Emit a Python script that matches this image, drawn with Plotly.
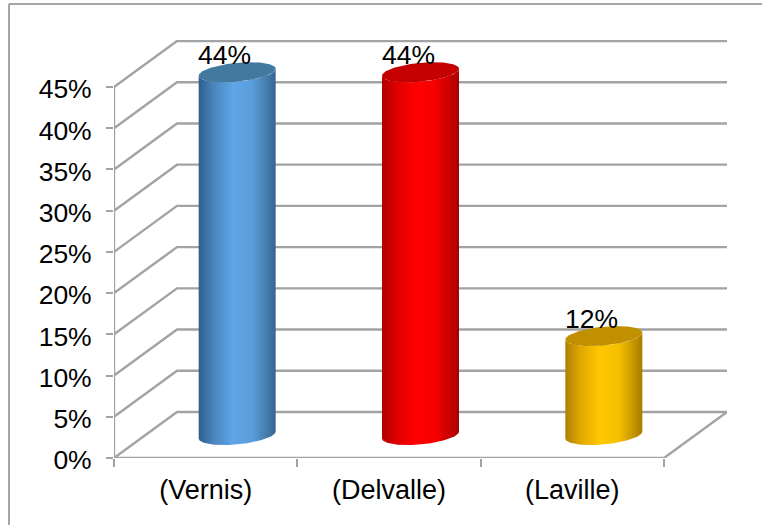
import numpy as np
import plotly.graph_objects as go

categories = ["(Vernis)", "(Delvalle)", "(Laville)"]
values = [44, 44, 12]
value_labels = ["44%", "44%", "12%"]
y_ticks = [0, 5, 10, 15, 20, 25, 30, 35, 40, 45]
y_labels = ["0%", "5%", "10%", "15%", "20%", "25%", "30%", "35%", "40%", "45%"]

body_scales = [
    [[0, "#2f5f8c"], [0.2, "#4a86bd"], [0.45, "#5fa6e8"], [0.7, "#5a9ddb"], [1, "#37668f"]],
    [[0, "#b00000"], [0.2, "#e00000"], [0.45, "#ff0000"], [0.7, "#f40000"], [1, "#a80000"]],
    [[0, "#ad8000"], [0.2, "#e0a800"], [0.45, "#ffc800"], [0.7, "#f5bf00"], [1, "#a87c00"]],
]
top_colors = ["#43789f", "#c40000", "#c09000"]

FONT = "Liberation Sans"
GRID = "#a3a3a3"
FS = 26.5

# plot area in pixels
W, H = 762, 525
L, R, B, T = 114, 727, 458, 40
PX_X = (664 - 114) / 3        # pixels per category
PX_Y = (458 - 87) / 45        # pixels per percent
DX = 63 / PX_X                # depth offset, axis units
DY = 46 / PX_Y
RX = 38.5 / PX_X              # cylinder ellipse
SH = 3.5 / PX_Y
RY = 9.4 / PX_Y

fig = go.Figure()


def line(xs, ys, width=2.4):
    fig.add_trace(go.Scatter(x=xs, y=ys, mode="lines", cliponaxis=False, hoverinfo="skip",
                             line=dict(color=GRID, width=width), showlegend=False))


n = len(categories)
for t in y_ticks:
    line([0, DX, n + DX], [t, t + DY, t + DY])
line([0, 0], [0, y_ticks[-1]])
line([0, n, n + DX], [0, 0, DY])

theta = np.linspace(0, 2 * np.pi, 121)
for i, v in enumerate(values):
    cx = i + 0.5 + DX / 2
    y0 = DY / 2
    # front half of the lower rim, then back along the front half of the upper rim
    front = np.linspace(np.pi, 0, 61)
    bx = cx + RX * np.cos(front)
    by = y0 + SH * np.cos(front) - RY * np.sin(front)
    tx = bx[::-1]
    ty = (by[::-1]) + v
    fig.add_trace(go.Scatter(
        x=np.concatenate([bx, tx]), y=np.concatenate([by, ty]), mode="lines", fill="toself",
        line=dict(width=0), hoverinfo="skip", showlegend=False, cliponaxis=False,
        fillgradient=dict(type="horizontal", colorscale=body_scales[i],
                          start=cx - RX, stop=cx + RX)))
    fig.add_trace(go.Scatter(
        x=cx + RX * np.cos(theta), y=y0 + v + SH * np.cos(theta) + RY * np.sin(theta),
        mode="lines", fill="toself", fillcolor=top_colors[i], line=dict(width=0),
        hoverinfo="skip", showlegend=False, cliponaxis=False))
    fig.add_annotation(x=cx, y=y0 + v, text=value_labels[i], showarrow=False, xshift=-12.5, yshift=17,
                       font=dict(family=FONT, size=FS, color="#000000"))

# outer frame (top and left edges only)
fx = lambda px: (px - L) / (R - L)
fy = lambda px: (B - px) / (B - T)
frame = dict(color="#a6a6a6", width=2)
fig.add_shape(type="line", xref="paper", yref="paper", x0=fx(9), x1=fx(W + 5), y0=fy(4), y1=fy(4), line=frame)
fig.add_shape(type="line", xref="paper", yref="paper", x0=fx(9), x1=fx(9), y0=fy(4), y1=fy(H + 5), line=frame)

fig.update_layout(
    width=W, height=H, autosize=False,
    margin=dict(l=L, r=W - R, t=T, b=H - B, pad=0),
    paper_bgcolor="#ffffff", plot_bgcolor="#ffffff", showlegend=False,
    font=dict(family=FONT, size=FS, color="#000000"),
    xaxis=dict(range=[0, (R - L) / PX_X], tickmode="array", tickvals=[i + 0.5 for i in range(n)],
               ticktext=categories, ticks="", showgrid=False, zeroline=False, showline=False,
               ticklabelstandoff=13, tickfont=dict(family=FONT, size=27),
               minor=dict(tickmode="array", tickvals=list(range(n + 1)), ticks="outside",
                          ticklen=8, tickcolor=GRID, tickwidth=1.5, showgrid=False)),
    yaxis=dict(range=[0, (B - T) / PX_Y], tickmode="array", tickvals=y_ticks, ticktext=y_labels,
               ticks="outside", ticklen=7, tickcolor=GRID, tickwidth=1.5, showgrid=False,
               zeroline=False, showline=False, ticklabelstandoff=9, ticklabelshift=2,
               tickfont=dict(family=FONT, size=FS)),
)
fig.write_html("out.html", config={"displayModeBar": False},
               post_script="document.body.style.margin='0';document.body.style.overflow='hidden';")
